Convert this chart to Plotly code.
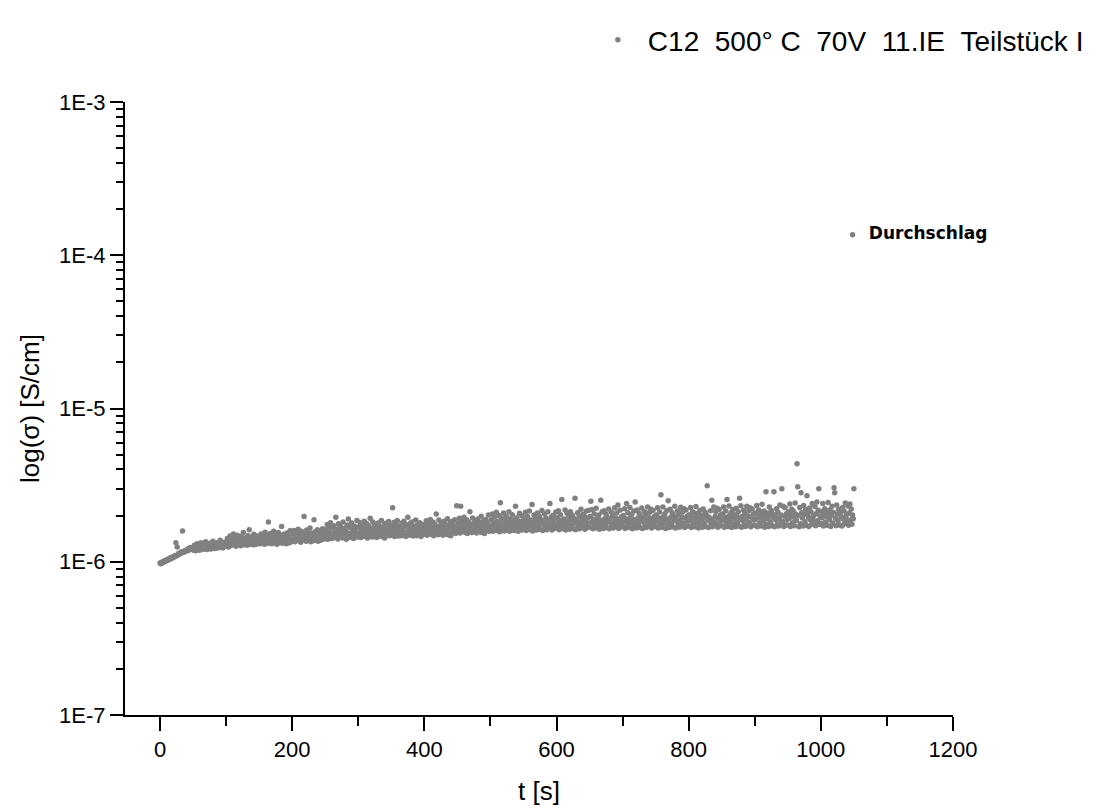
import plotly.graph_objects as go

# conductivity samples in units of 1E-6 S/cm, one sample per second starting at t = 0 s
sigma_uS = [
    # 0-49 s
    0.98, 0.97, 0.99, 0.98, 1.00, 0.99, 1.01, 1.00, 1.02, 1.01,
    1.03, 1.02, 1.04, 1.03, 1.05, 1.04, 1.06, 1.05, 1.07, 1.06,
    1.08, 1.07, 1.09, 1.10, 1.33, 1.09, 1.25, 1.11, 1.13, 1.12,
    1.14, 1.13, 1.15, 1.16, 1.59, 1.15, 1.17, 1.16, 1.18, 1.17,
    1.19, 1.18, 1.21, 1.19, 1.22, 1.20, 1.24, 1.21, 1.23, 1.22,
    # 50-99 s
    1.24, 1.19, 1.28, 1.21, 1.18, 1.26, 1.31, 1.20, 1.23, 1.29,
    1.19, 1.25, 1.33, 1.22, 1.20, 1.27, 1.24, 1.30, 1.21, 1.35,
    1.23, 1.20, 1.28, 1.25, 1.22, 1.32, 1.26, 1.21, 1.29, 1.24,
    1.36, 1.23, 1.27, 1.22, 1.30, 1.25, 1.33, 1.23, 1.28, 1.26,
    1.24, 1.38, 1.29, 1.25, 1.31, 1.23, 1.27, 1.34, 1.26, 1.30,
    # 100-149 s
    1.27, 1.35, 1.42, 1.30, 1.25, 1.38, 1.47, 1.32, 1.28, 1.40,
    1.33, 1.52, 1.29, 1.36, 1.44, 1.26, 1.31, 1.49, 1.37, 1.30,
    1.41, 1.34, 1.27, 1.46, 1.39, 1.32, 1.55, 1.29, 1.35, 1.43,
    1.31, 1.38, 1.28, 1.48, 1.33, 1.62, 1.36, 1.30, 1.45, 1.40,
    1.32, 1.29, 1.51, 1.37, 1.34, 1.42, 1.30, 1.47, 1.35, 1.39,
    # 150-199 s
    1.33, 1.45, 1.31, 1.52, 1.38, 1.34, 1.49, 1.42, 1.30, 1.56,
    1.36, 1.40, 1.47, 1.32, 1.82, 1.44, 1.35, 1.53, 1.39, 1.31,
    1.46, 1.37, 1.58, 1.33, 1.42, 1.50, 1.36, 1.30, 1.44, 1.55,
    1.38, 1.34, 1.48, 1.41, 1.70, 1.32, 1.39, 1.51, 1.35, 1.45,
    1.37, 1.31, 1.54, 1.43, 1.36, 1.47, 1.33, 1.60, 1.40, 1.38,
    # 200-249 s
    1.36, 1.52, 1.41, 1.60, 1.35, 1.47, 1.55, 1.38, 1.44, 1.63,
    1.37, 1.50, 1.42, 1.34, 1.58, 1.46, 1.39, 1.53, 1.97, 1.40,
    1.48, 1.36, 1.61, 1.43, 1.51, 1.38, 1.45, 1.66, 1.35, 1.54,
    1.41, 1.49, 1.37, 1.88, 1.44, 1.57, 1.39, 1.46, 1.62, 1.36,
    1.52, 1.42, 1.59, 1.38, 1.48, 1.40, 1.64, 1.45, 1.55, 1.41,
    # 250-299 s
    1.43, 1.62, 1.51, 1.75, 1.40, 1.57, 1.68, 1.46, 1.80, 1.53,
    1.42, 1.66, 1.49, 1.72, 1.44, 1.59, 1.95, 1.48, 1.63, 1.41,
    1.77, 1.55, 1.45, 1.70, 1.52, 1.61, 1.43, 1.82, 1.50, 1.65,
    1.47, 1.58, 1.40, 1.74, 1.54, 1.90, 1.46, 1.67, 1.51, 1.44,
    1.79, 1.56, 1.60, 1.42, 1.71, 1.49, 1.64, 1.53, 1.86, 1.45,
    # 300-349 s
    1.47, 1.69, 1.55, 1.80, 1.44, 1.62, 1.74, 1.50, 1.58, 1.84,
    1.46, 1.66, 1.53, 1.77, 1.43, 1.60, 1.71, 1.49, 1.92, 1.56,
    1.64, 1.45, 1.82, 1.52, 1.68, 1.47, 1.75, 1.59, 1.44, 1.63,
    1.79, 1.51, 1.70, 1.48, 1.57, 1.86, 1.46, 1.65, 1.54, 1.73,
    1.43, 1.61, 1.78, 1.50, 1.67, 1.55, 1.83, 1.48, 1.62, 1.72,
    # 350-399 s
    1.49, 1.68, 2.25, 1.57, 1.81, 1.46, 1.63, 1.75, 1.52, 1.86,
    1.59, 1.47, 1.71, 1.55, 1.66, 1.48, 1.79, 1.61, 1.50, 1.84,
    1.56, 1.69, 1.46, 1.74, 1.53, 1.95, 1.60, 1.49, 1.77, 1.65,
    1.51, 1.82, 1.58, 1.47, 1.70, 1.62, 1.54, 1.87, 1.48, 1.73,
    1.57, 1.66, 1.50, 1.80, 1.59, 1.46, 1.76, 1.64, 1.52, 1.69,
    # 400-449 s
    1.52, 1.74, 1.61, 1.85, 1.49, 1.67, 1.79, 1.56, 1.63, 1.89,
    1.51, 1.70, 1.58, 1.82, 1.48, 1.65, 1.76, 1.54, 2.05, 1.60,
    1.68, 1.50, 1.87, 1.57, 1.72, 1.53, 1.80, 1.64, 1.49, 1.69,
    1.84, 1.55, 1.75, 1.52, 1.62, 1.91, 1.50, 1.71, 1.59, 1.78,
    1.48, 1.66, 1.83, 1.56, 1.73, 1.61, 1.88, 1.53, 1.67, 2.32,
    # 450-499 s
    1.57, 1.79, 1.66, 1.92, 1.54, 2.30, 1.72, 1.84, 1.60, 1.68,
    1.95, 1.56, 1.76, 1.63, 1.88, 1.53, 1.70, 1.82, 1.59, 2.12,
    1.65, 1.74, 1.55, 1.93, 1.62, 1.78, 1.58, 1.86, 1.69, 1.54,
    1.75, 1.90, 1.61, 1.81, 1.57, 1.67, 1.98, 1.55, 1.77, 1.64,
    1.85, 1.53, 1.71, 1.89, 1.60, 1.80, 1.66, 2.02, 1.58, 1.73,
    # 500-549 s
    1.61, 1.88, 1.72, 2.05, 1.58, 1.80, 1.95, 1.66, 1.75, 2.10,
    1.60, 1.84, 1.69, 2.00, 1.57, 2.43, 1.78, 1.92, 1.64, 1.71,
    2.08, 1.59, 1.86, 1.74, 1.98, 1.62, 1.82, 1.67, 2.12, 1.58,
    1.90, 1.76, 1.63, 2.03, 1.70, 1.87, 1.60, 1.79, 2.30, 1.65,
    1.94, 1.73, 1.58, 1.83, 2.07, 1.68, 1.77, 1.61, 1.99, 1.85,
    # 550-599 s
    1.64, 1.91, 1.75, 2.10, 1.60, 1.83, 1.97, 1.69, 1.78, 2.14,
    1.62, 1.87, 1.72, 2.36, 1.59, 1.81, 2.02, 1.67, 1.94, 1.76,
    1.61, 2.08, 1.85, 1.70, 1.99, 1.63, 1.89, 1.79, 2.16, 1.60,
    1.84, 1.73, 2.05, 1.66, 1.92, 1.62, 1.77, 2.12, 1.68, 1.86,
    2.40, 1.71, 1.96, 1.61, 1.82, 2.01, 1.65, 1.90, 1.74, 2.11,
    # 600-649 s
    1.66, 1.94, 1.78, 2.15, 1.62, 1.86, 2.03, 1.71, 2.55, 1.81,
    1.64, 1.90, 1.75, 2.18, 1.61, 1.84, 2.07, 1.69, 1.98, 1.79,
    1.63, 2.12, 1.88, 1.73, 2.01, 1.65, 1.92, 1.82, 2.60, 1.62,
    1.87, 1.76, 2.09, 1.68, 1.96, 1.64, 1.80, 2.20, 1.70, 1.89,
    2.04, 1.74, 1.99, 1.63, 1.85, 2.14, 1.67, 1.93, 1.77, 2.17,
    # 650-699 s
    1.68, 1.97, 2.48, 1.81, 2.19, 1.64, 1.89, 2.06, 1.73, 1.84,
    2.23, 1.66, 1.93, 1.78, 2.02, 1.63, 1.87, 2.52, 1.71, 2.12,
    1.82, 1.65, 2.15, 1.91, 1.76, 2.05, 1.67, 1.95, 1.85, 2.21,
    1.64, 1.90, 1.79, 2.10, 1.70, 1.99, 1.66, 1.83, 2.25, 1.72,
    1.92, 2.08, 1.77, 2.35, 1.65, 1.88, 2.17, 1.69, 1.96, 1.80,
    # 700-749 s
    1.69, 2.00, 1.83, 2.22, 1.65, 1.91, 2.40, 1.75, 2.09, 1.86,
    1.67, 2.26, 1.95, 1.79, 2.04, 1.64, 1.89, 2.14, 1.72, 2.45,
    1.84, 1.66, 2.18, 1.93, 1.77, 2.07, 1.68, 1.98, 1.87, 2.24,
    1.65, 1.92, 1.81, 2.12, 1.71, 2.02, 1.67, 1.85, 2.28, 1.74,
    1.94, 2.10, 1.78, 2.20, 1.66, 1.90, 2.16, 1.70, 1.97, 1.82,
    # 750-799 s
    1.70, 2.02, 1.85, 2.25, 1.66, 1.93, 2.11, 1.76, 2.74, 1.88,
    1.68, 2.28, 1.97, 1.80, 2.06, 1.65, 1.91, 2.16, 1.73, 2.50,
    1.86, 1.67, 2.20, 1.95, 1.78, 2.09, 1.69, 2.00, 1.89, 2.30,
    1.66, 1.94, 1.83, 2.14, 1.72, 2.04, 1.68, 1.87, 2.27, 1.75,
    1.96, 2.12, 1.79, 2.22, 1.67, 1.92, 2.18, 1.71, 1.99, 1.84,
    # 800-849 s
    1.71, 2.03, 1.86, 2.26, 1.67, 1.94, 2.12, 1.77, 2.08, 1.89,
    1.69, 2.29, 1.98, 1.81, 2.07, 1.66, 1.92, 2.17, 1.74, 2.01,
    1.87, 1.68, 2.21, 1.96, 1.79, 2.10, 1.70, 2.00, 3.13, 1.90,
    1.67, 1.95, 1.84, 2.15, 1.73, 2.52, 1.69, 1.88, 2.28, 1.76,
    1.97, 2.13, 1.80, 2.23, 1.68, 1.93, 2.19, 1.72, 2.02, 1.85,
    # 850-899 s
    1.72, 2.05, 1.88, 2.28, 1.68, 1.96, 2.14, 1.78, 2.55, 1.91,
    1.70, 2.31, 2.00, 1.82, 2.09, 1.67, 1.94, 2.19, 1.75, 2.03,
    1.89, 1.69, 2.23, 1.98, 1.80, 2.12, 1.71, 2.60, 1.92, 2.32,
    1.68, 1.97, 1.85, 2.17, 1.74, 2.06, 1.70, 1.90, 2.30, 1.77,
    1.99, 2.15, 1.81, 2.25, 1.69, 1.95, 2.21, 1.73, 2.04, 1.87,
    # 900-949 s
    1.73, 2.08, 1.90, 2.33, 1.69, 1.99, 2.18, 1.79, 2.12, 1.93,
    1.71, 2.37, 2.03, 1.84, 2.14, 1.68, 1.97, 2.86, 1.76, 2.07,
    1.91, 1.70, 2.28, 2.01, 1.82, 2.16, 1.72, 2.05, 1.94, 2.86,
    1.69, 2.00, 1.87, 2.22, 1.75, 2.10, 1.71, 1.92, 2.35, 1.78,
    2.02, 2.99, 1.83, 2.30, 1.70, 1.98, 2.25, 1.74, 2.06, 1.89,
    # 950-999 s
    1.74, 2.11, 1.92, 2.38, 1.70, 2.02, 2.20, 1.80, 2.15, 1.95,
    1.72, 2.42, 2.05, 1.86, 4.36, 3.09, 2.00, 1.69, 2.26, 1.77,
    2.82, 2.09, 1.93, 1.71, 2.33, 2.04, 1.83, 2.19, 1.73, 2.70,
    2.08, 1.96, 1.70, 2.24, 1.89, 2.12, 1.76, 2.40, 1.94, 2.01,
    1.81, 2.29, 1.72, 2.06, 2.45, 1.85, 2.17, 2.99, 1.75, 1.98,
    # 1000-1050 s
    1.78, 2.13, 1.94, 2.40, 1.71, 2.03, 2.22, 1.82, 2.16, 1.97,
    1.73, 2.44, 2.07, 1.88, 2.18, 1.70, 2.01, 2.30, 1.79, 2.10,
    3.04, 2.82, 1.92, 1.72, 2.35, 2.05, 1.85, 2.20, 1.74, 2.12,
    2.00, 1.96, 1.71, 2.26, 1.90, 2.14, 1.77, 2.42, 1.95, 2.04,
    1.83, 2.31, 1.73, 2.08, 2.38, 1.87, 2.21, 1.76, 2.02, 1.91,
    2.99,
]
t_start_s = 0
t_step_s = 1

# breakdown point
breakdown_t = [1048]
breakdown_sigma = [1.36e-4]
breakdown_label = ["\u00a0\u00a0Durchschlag"]

series_name = "C12\u00a0\u00a0500°\u00a0C\u00a0\u00a070V\u00a0\u00a011.IE\u00a0\u00a0Teilstück\u00a0I"

y_tickvals = [1e-7, 1e-6, 1e-5, 1e-4, 1e-3]
y_ticktext = ["1E-7", "1E-6", "1E-5", "1E-4", "1E-3"]
y_minor = [m * 10.0 ** e for e in range(-7, -3) for m in range(2, 10)]
x_tickvals = [0, 200, 400, 600, 800, 1000, 1200]
x_minor = [100, 300, 500, 700, 900, 1100]

t_s = [t_start_s + i * t_step_s for i in range(len(sigma_uS))]
sigma = [v * 1e-6 for v in sigma_uS]

GRAY = "#808080"
FONT = "Liberation Sans, Arial, sans-serif"
fig = go.Figure()
fig.add_trace(go.Scatter(
    x=t_s, y=sigma, mode="markers", name=series_name,
    marker=dict(color=GRAY, size=5.5, line=dict(width=0)),
))
fig.add_trace(go.Scatter(
    x=breakdown_t, y=breakdown_sigma, mode="markers+text", showlegend=False,
    text=breakdown_label, textposition="middle right", cliponaxis=False,
    textfont=dict(family="DejaVu Sans", size=17, color="black", weight="bold"),
    marker=dict(color=GRAY, size=5.5, line=dict(width=0)),
))

axis_font = dict(family=FONT, size=22, color="black")
fig.update_layout(
    width=1106, height=809,
    margin=dict(l=117, r=161, t=94, b=102, autoexpand=False),
    paper_bgcolor="white", plot_bgcolor="white",
    font=dict(family=FONT, color="black"),
    showlegend=True,
    legend=dict(
        x=0.559, y=1.142, xanchor="left", yanchor="top",
        font=dict(family=FONT, size=28, color="black"),
        bgcolor="rgba(0,0,0,0)", itemwidth=50,
    ),
    xaxis=dict(
        range=[-53, 1200], showgrid=False, zeroline=False,
        showline=True, linecolor="black", linewidth=2,
        ticks="outside", ticklen=14, tickwidth=2, tickcolor="black",
        tickmode="array", tickvals=x_tickvals, ticktext=[str(v) for v in x_tickvals],
        tickfont=axis_font,
        minor=dict(tickmode="array", tickvals=x_minor, ticks="outside", ticklen=9, tickwidth=2, tickcolor="black"),
        title=dict(text="t [s]", font=dict(family=FONT, size=26, color="black"), standoff=20),
    ),
    yaxis=dict(
        type="log", range=[-7, -3], showgrid=False, zeroline=False,
        showline=True, linecolor="black", linewidth=2,
        ticks="outside", ticklen=13, tickwidth=2, tickcolor="black",
        tickmode="array", tickvals=y_tickvals, ticktext=y_ticktext,
        tickfont=axis_font,
        minor=dict(tickmode="array", tickvals=y_minor, ticks="outside", ticklen=7, tickwidth=1.5, tickcolor="black"),
        title=dict(text="log(σ) [S/cm]", font=dict(family=FONT, size=26, color="black"), standoff=12),
    ),
)

fig.write_html("out.html")
